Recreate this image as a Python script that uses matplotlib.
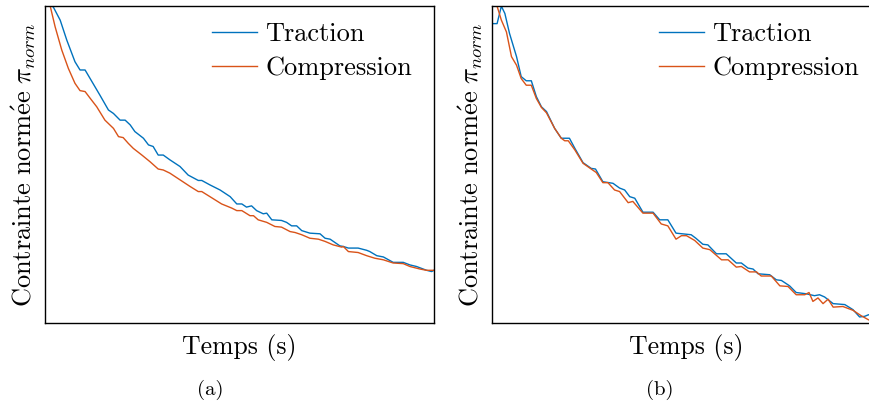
import matplotlib
matplotlib.use("Agg")
import matplotlib.pyplot as plt

plt.rcParams['font.family'] = 'serif'
plt.rcParams['font.serif'] = ['cmr10']
plt.rcParams['mathtext.fontset'] = 'cm'
plt.rcParams['axes.unicode_minus'] = False

BLUE = '#0072BD'
ORANGE = '#D95319'

# (a) time (% of window) and normalised stress (% of axis range)
t_trac_a = [0, 1.3, 2.1, 3.9, 5.6, 7.7, 9.0, 10.3, 11.6, 14.1, 16.3, 17.6, 19.3, 20.6,
            21.9, 23.1, 25.3, 26.6, 27.8, 29.1, 30.4, 32.1, 34.7, 36.8, 39.4, 40.3,
            42.4, 45.0, 47.6, 49.3, 50.6, 51.8, 53.1, 54.4, 56.1, 57.0, 58.3, 60.8,
            62.1, 63.4, 64.7, 66.0, 68.1, 70.7, 72.0, 73.3, 75.8, 76.7, 78.0, 80.5,
            82.7, 83.5, 85.3, 87.0, 89.5, 92.1, 93.8, 95.5, 98.1, 99.4, 100]
s_trac_a = [104, 100.0, 99.6, 95.4, 89.1, 82.3, 79.7, 79.7, 77.0, 71.8, 67.1, 66.0, 63.9,
            63.9, 62.4, 60.3, 58.2, 56.1, 55.6, 52.9, 52.9, 51.4, 49.3, 46.6, 44.9,
            44.9, 43.5, 41.9, 39.8, 37.5, 37.5, 36.5, 36.9, 35.4, 34.4, 34.6, 32.5,
            32.3, 31.7, 30.6, 30.6, 29.1, 28.3, 28.1, 26.7, 26.4, 24.3, 24.1, 23.6,
            23.6, 22.9, 22.5, 21.2, 20.8, 19.1, 19.1, 18.3, 17.8, 16.6, 16.2, 16.6]

t_comp_a = [0, 1.3, 2.6, 4.3, 6.0, 7.7, 9.0, 10.3, 11.6, 13.3, 15.4, 17.6, 18.9, 20.1,
            21.4, 22.7, 24.9, 27.0, 29.1, 30.4, 32.1, 34.7, 37.3, 39.4, 40.3, 42.4,
            45.4, 48.0, 49.3, 50.6, 52.7, 53.6, 54.8, 57.0, 59.1, 60.8, 63.0, 64.3,
            66.0, 68.1, 70.3, 72.0, 74.1, 76.3, 76.7, 78.0, 80.5, 82.7, 84.8, 87.0,
            89.5, 92.1, 93.8, 96.4, 98.1, 100]
s_comp_a = [106, 100, 93.3, 86.0, 80.2, 75.5, 73.2, 72.9, 70.8, 68.1, 63.9, 61.3, 58.7,
            58.4, 56.6, 55.0, 52.9, 50.8, 48.5, 48.2, 47.2, 45.1, 43.0, 41.4, 41.4,
            39.8, 37.5, 36.2, 35.4, 35.4, 33.8, 33.8, 32.5, 31.7, 30.4, 30.2, 28.8,
            28.5, 27.8, 26.7, 26.4, 25.7, 24.6, 23.9, 24.1, 22.5, 22.2, 21.2, 20.4,
            19.9, 18.9, 18.7, 17.8, 17.0, 16.6, 16.6]

# (b)
t_trac_b = [0, 1.3, 2.4, 3.3, 4.5, 6.3, 7.5, 8.8, 10.1, 11.4, 12.7, 14.0, 16.1, 17.8,
            19.9, 21.3, 23.4, 25.5, 26.6, 28.5, 31.1, 32.8, 34.1, 35.4, 36.7, 38.8,
            41.4, 43.1, 45.2, 47.3, 51.2, 52.4, 54.2, 55.5, 57.7, 60.2, 62.8, 64.1,
            65.8, 67.1, 68.4, 71.4, 73.1, 74.4, 76.5, 78.2, 80.8, 82.9, 84.2, 85.5,
            87.7, 90.7, 92.8, 94.5, 95.8, 96.8, 100]
s_trac_b = [94.3, 94.3, 99.8, 97.5, 91.2, 83.9, 77.6, 76.3, 76.3, 71.3, 68.1, 66.6, 61.3,
            58.2, 58.2, 55.0, 50.5, 48.7, 48.5, 44.5, 44.0, 42.5, 41.9, 39.8, 39.3,
            34.9, 34.9, 32.5, 32.5, 28.3, 27.8, 26.7, 24.8, 24.6, 21.8, 21.8, 18.9,
            18.9, 17.3, 17.0, 15.5, 15.2, 13.6, 13.4, 11.7, 9.6, 9.2, 8.6, 8.9, 8.2,
            6.1, 5.8, 4.2, 1.9, 2.1, 2.6, 1.5]

t_comp_b = [0, 1.3, 2.4, 3.7, 5.0, 6.3, 7.5, 8.8, 10.1, 11.4, 12.7, 14.0, 16.1, 17.8,
            18.7, 19.6, 21.3, 23.4, 25.5, 26.8, 28.5, 29.8, 31.5, 32.8, 35.0, 36.2,
            38.8, 41.4, 43.5, 45.2, 47.3, 48.7, 50.0, 52.1, 54.2, 56.0, 59.0, 60.7,
            62.8, 64.1, 66.2, 68.0, 69.2, 71.8, 74.0, 76.1, 78.2, 80.4, 81.5, 82.5,
            83.8, 85.1, 86.4, 87.7, 90.2, 92.8, 94.9, 96.8, 100]
s_comp_b = [99.8, 99.8, 95.4, 91.7, 83.9, 81.2, 77.0, 74.9, 74.9, 70.7, 67.9, 66.2, 61.3,
            58.2, 57.4, 57.4, 54.5, 50.3, 48.5, 47.4, 44.2, 44.2, 41.9, 41.4, 37.9,
            38.3, 34.6, 34.6, 31.2, 30.6, 26.4, 27.5, 27.5, 26.0, 23.6, 23.1, 19.9,
            19.9, 17.6, 17.8, 16.1, 16.1, 14.8, 14.8, 11.7, 11.5, 8.9, 8.9, 9.6, 6.8,
            7.9, 6.1, 7.5, 5.0, 5.2, 4.0, 2.3, 1.0, 0.0]

ylabel = r'$\mathrm{Contrainte\ norm\acute{e}e}\ \pi_{norm}$'

fig = plt.figure(figsize=(8.69, 4.07), dpi=100)
ax_a = fig.add_axes([0.0518, 0.2064, 0.4476, 0.780])
ax_b = fig.add_axes([0.5662, 0.2064, 0.4476, 0.780])

panels = [(ax_a, t_trac_a, s_trac_a, t_comp_a, s_comp_a),
          (ax_b, t_trac_b, s_trac_b, t_comp_b, s_comp_b)]
for ax, tt, st, tc, sc in panels:
    ax.plot(tt, st, color=BLUE, lw=1.0, label='Traction')
    ax.plot(tc, sc, color=ORANGE, lw=1.0, label='Compression')
    ax.set_xlim(0, 100)
    ax.set_ylim(0, 100)
    ax.set_xticks([])
    ax.set_yticks([])
    for sp in ax.spines.values():
        sp.set_linewidth(1.0)
    ax.set_xlabel('Temps (s)', fontsize=18.5, labelpad=8)
    ax.set_ylabel(ylabel, fontsize=19, labelpad=5)
    ax.legend(loc='upper right', bbox_to_anchor=(0.957, 0.964), frameon=False,
              fontsize=19, handlelength=1.7, handletextpad=0.3, labelspacing=0.4,
              borderaxespad=0, borderpad=0.2)

fig.text(0.2417, 0.042, '(a)', fontsize=15, ha='center', va='center')
fig.text(0.7595, 0.042, '(b)', fontsize=15, ha='center', va='center')

fig.savefig('out.png', dpi=100)
